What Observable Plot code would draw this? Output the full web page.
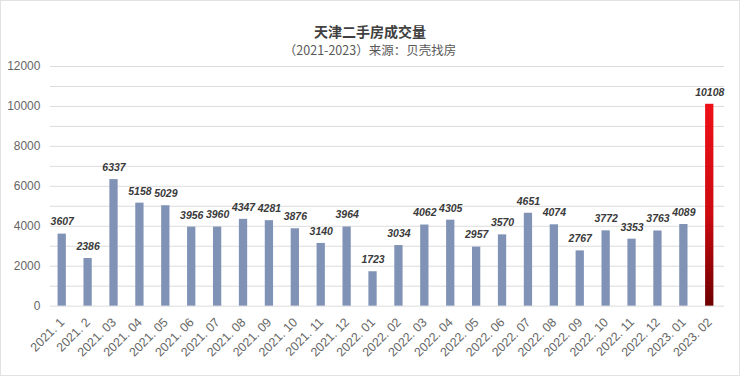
<!DOCTYPE html>
<html><head><meta charset="utf-8">
<script src="https://cdn.jsdelivr.net/npm/d3@7"></script>
<script src="https://cdn.jsdelivr.net/npm/@observablehq/plot@0.6"></script>
<style>
html,body{margin:0;padding:0;background:#fff;}
#wrap{width:738px;height:374px;border:1px solid #e2e2e2;position:relative;overflow:hidden;font-family:"Liberation Sans",Arial,sans-serif;}
#title{position:absolute;left:0;width:738px;top:23px;text-align:center;font-size:14px;font-weight:bold;color:#404040;font-family:"Noto Sans CJK SC",sans-serif;line-height:15px;height:15px;}
#sub{position:absolute;left:0;width:738px;top:42px;text-align:center;font-size:12.5px;color:#595959;font-family:"Noto Sans CJK SC",sans-serif;line-height:14px;height:14px;}
#chart{position:absolute;left:-1px;top:55px;}
</style></head><body>
<div id="wrap">
<div id="title">天津二手房成交量</div>
<div id="sub">（2021-2023）来源：贝壳找房</div>
<div id="chart"></div>
</div>
<script>
const months = ["2021. 1","2021. 2","2021. 03","2021. 04","2021. 05","2021. 06","2021. 07","2021. 08","2021. 09","2021. 10","2021. 11","2021. 12",
"2022. 01","2022. 02","2022. 03","2022. 04","2022. 05","2022. 06","2022. 07","2022. 08","2022. 09","2022. 10","2022. 11","2022. 12",
"2023. 01","2023. 02"];
const volumes = [3607,2386,6337,5158,5029,3956,3960,4347,4281,3876,3140,3964,1723,3034,4062,4305,2957,3570,4651,4074,2767,3772,3353,3763,4089,10108];
const yTicks = [0,2000,4000,6000,8000,10000,12000];
const gridLines = d3.range(0, 13000, 1000);

const data = months.map((m,i)=>({month:m, value:volumes[i], highlight: i===months.length-1}));

const plot = Plot.plot({
  width: 740, height: 321,
  marginLeft: 50, marginRight: 15, marginTop: 10, marginBottom: 71,
  style: {fontFamily: '"Liberation Sans", Arial, sans-serif', background: "transparent"},
  x: {domain: months, padding: 0.68, range: [40, 732], round: false, label: null},
  y: {domain: [0, 12000], label: null},
  marks: [
    Plot.ruleY(gridLines, {stroke: "#dcdcdc", strokeWidth: 1}),
    Plot.barY(data.filter(d=>!d.highlight), {x: "month", y: "value", fill: "#8093B6"}),
    Plot.barY(data.filter(d=>d.highlight), {x: "month", y: "value", fill: "url(#redgrad)"}),
    Plot.text(data, {x: "month", y: "value", text: d => String(d.value), dy: -12, fontWeight: "bold", fontStyle: "italic", fontSize: 10.5, fill: "#3a3a3a"}),
    Plot.axisX({tickRotate: -45, tickSize: 0, tickPadding: 14, fontSize: 12.5, color: "#666", label: null}),
    Plot.axisY({ticks: yTicks, tickSize: 0, tickPadding: 10, fontSize: 12, color: "#666", label: null, tickFormat: d => String(d)})
  ]
});
const ns = "http://www.w3.org/2000/svg";
const defs = document.createElementNS(ns, "defs");
defs.innerHTML = '<linearGradient id="redgrad" x1="0" y1="0" x2="0" y2="1"><stop offset="0" stop-color="#ee1018"/><stop offset="0.55" stop-color="#cc0a10"/><stop offset="1" stop-color="#6e0000"/></linearGradient>';
plot.insertBefore(defs, plot.firstChild);
document.getElementById("chart").appendChild(plot);
</script>
</body></html>
